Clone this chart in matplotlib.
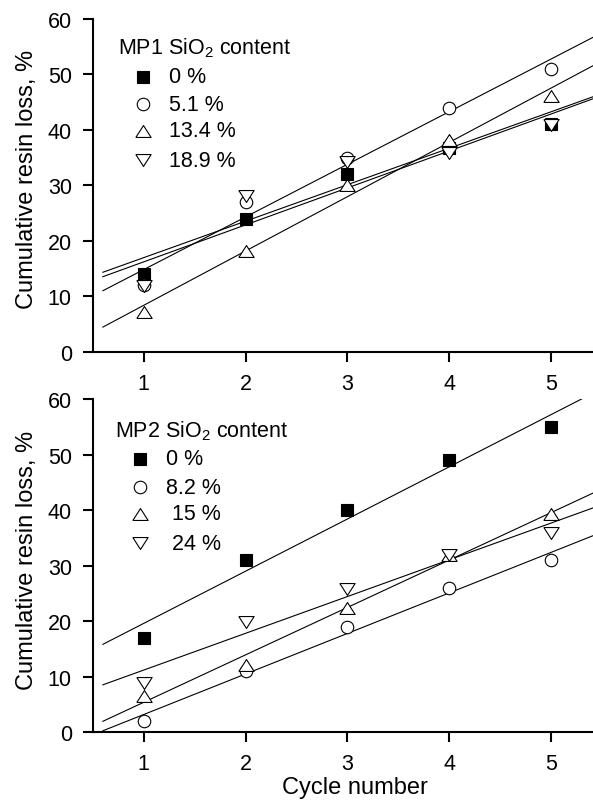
import numpy as np
import matplotlib
matplotlib.use('Agg')
import matplotlib.pyplot as plt

plt.rcParams['font.family'] = ['Liberation Sans', 'DejaVu Sans']
plt.rcParams['mathtext.fontset'] = 'custom'
plt.rcParams['mathtext.rm'] = 'Liberation Sans'

cycles = [1, 2, 3, 4, 5]

# MP1 panel
mp1_labels = ['0 %', '5.1 %', '13.4 %', '18.9 %']
mp1_0 = [14, 24, 32, 36.7, 41]
mp1_51 = [12, 27, 35, 44, 51]
mp1_134 = [7.2, 18.2, 30, 38.2, 46.2]
mp1_189 = [11.8, 28, 34.2, 35.8, 40.8]

# MP2 panel
mp2_labels = ['0 %', '8.2 %', ' 15 %', ' 24 %']
mp2_0 = [17, 31, 40, 49, 55]
mp2_82 = [2, 11, 19, 26, 31]
mp2_15 = [6.5, 12.2, 22.4, 32, 39.3]
mp2_24 = [8.8, 19.8, 25.8, 32, 35.8]

# flattened triangles like the original software draws them
tri_up = [(-1, -0.78), (1, -0.78), (0, 0.78), (-1, -0.78)]
tri_down = [(-1, 0.78), (1, 0.78), (0, -0.78), (-1, 0.78)]
markers = ['s', 'o', tri_up, tri_down]
fills = ['black', 'white', 'white', 'white']
sizes = [9, 9, 11, 11]


def panel(ax, series, labels, title, tx, ty, mx, lx, rows):
    xfit = np.array([0.6, 5.6])
    for i, y in enumerate(series):
        k, b = np.polyfit(cycles, y, 1)
        ax.plot(xfit, k * xfit + b, color='black', lw=0.8, zorder=2)
        ax.plot(cycles, y, linestyle='none', marker=markers[i], ms=sizes[i],
                mfc=fills[i], mec='black', mew=0.8, zorder=3)
        # legend entry
        ax.plot([mx], [rows[i]], transform=ax.transAxes, linestyle='none',
                marker=markers[i], ms=sizes[i], mfc=fills[i], mec='black',
                mew=0.8, clip_on=False)
        ax.text(lx, rows[i], labels[i], transform=ax.transAxes,
                fontsize=15.5, va='center', ha='left')
    ax.text(tx, ty, title, transform=ax.transAxes, fontsize=15.5,
            va='baseline', ha='left')

    ax.set_xlim(0.5, 5.41)
    ax.set_ylim(0, 60)
    ax.set_xticks(cycles)
    ax.set_yticks(range(0, 61, 10))
    ax.spines['top'].set_visible(False)
    ax.spines['right'].set_visible(False)
    ax.spines['left'].set_linewidth(1.5)
    ax.spines['bottom'].set_linewidth(1.5)
    ax.tick_params(direction='out', length=7, width=1.5, labelsize=15.5, pad=8)
    ax.set_ylabel('Cumulative resin loss, %', fontsize=17)
    ax.yaxis.set_label_coords(-0.11, 0.52)


fig = plt.figure(figsize=(5.93, 8.04), dpi=100)
ax1 = fig.add_axes([0.1563, 0.5613, 0.8437, 0.4138])
ax2 = fig.add_axes([0.1563, 0.0879, 0.8437, 0.4146])

panel(ax1, [mp1_0, mp1_51, mp1_134, mp1_189], mp1_labels,
      'MP1 SiO$_2$ content', 0.051, 0.898, 0.1005, 0.1525,
      [0.827, 0.744, 0.664, 0.576])
panel(ax2, [mp2_0, mp2_82, mp2_15, mp2_24], mp2_labels,
      'MP2 SiO$_2$ content', 0.045, 0.888, 0.0945, 0.1465,
      [0.82, 0.735, 0.655, 0.567])

ax2.set_xlabel('Cycle number', fontsize=17, va='top')
ax2.xaxis.set_label_coords(0.525, -0.132)

fig.savefig('out.png', dpi=100)
